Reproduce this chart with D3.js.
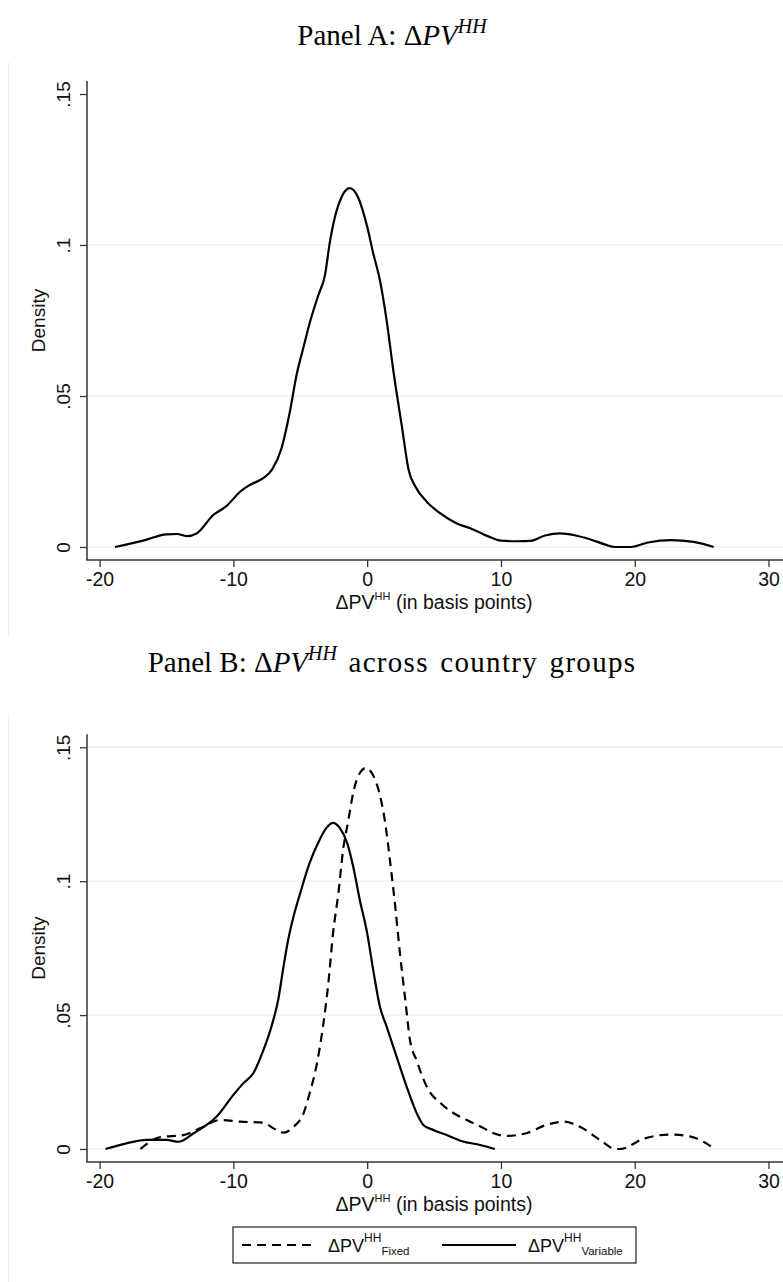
<!DOCTYPE html>
<html>
<head>
<meta charset="utf-8">
<script src="https://cdn.jsdelivr.net/npm/d3@7"></script>
<style>
  body { margin: 0; background: #fff; }
  svg { display: block; }
</style>
</head>
<body>
<svg class="main"></svg>
<script>
// ticks
let xTicks = [-20, -10, 0, 10, 20, 30];
let yTicks = [0, 0.05, 0.1, 0.15];
let yTickLabels = ["0", ".05", ".1", ".15"];

// Panel A : density of dPV^HH  [x, density]
let allPV = [[-18.85,0],[-16.75,0.0021],[-15.0,0.0042],[-14.2,0.0043],[-13.5,0.0036],[-12.75,0.0045],
  [-11.5,0.0106],[-10.5,0.0136],[-9.5,0.0183],[-8.8,0.0205],[-7.8,0.0227],[-7.1,0.0257],[-6.4,0.0327],
  [-5.8,0.0443],[-5.25,0.0575],[-4.75,0.0663],[-4.3,0.0741],[-3.65,0.0834],[-3.15,0.0901],[-2.8,0.1006],
  [-2.4,0.1094],[-1.9,0.116],[-1.3,0.1188],[-0.65,0.1155],[0,0.1061],[0.45,0.0973],[0.95,0.0884],
  [1.45,0.0752],[1.95,0.0586],[2.6,0.0398],[3.1,0.0255],[3.6,0.02],[4.45,0.015],[5.45,0.0112],
  [6.7,0.0078],[7.7,0.0062],[9,0.0036],[10,0.0021],[11.2,0.0019],[12.2,0.002],[13.3,0.0038],
  [14.4,0.0045],[15.5,0.0039],[16.7,0.0025],[17.8,0.0008],[18.5,0],[19.7,0],[21,0.0015],
  [22.7,0.0023],[24.4,0.0017],[25.9,0]];

// Panel B : fixed vs variable
let fixedPV = [[-16.95,0],[-15.5,0.0044],[-13.75,0.0052],[-12.5,0.0077],[-11,0.0108],[-9.5,0.0102],
  [-7.75,0.0098],[-7,0.0077],[-6.25,0.0061],[-5.5,0.0083],[-4.75,0.0134],[-4.3,0.0208],[-3.8,0.0308],
  [-3.3,0.0458],[-2.9,0.062],[-2.55,0.0806],[-2.15,0.0956],[-1.8,0.1117],[-1.4,0.1229],[-1.05,0.1329],
  [-0.55,0.1404],[-0.1,0.1423],[0.35,0.1404],[0.85,0.1341],[1.35,0.1217],[1.7,0.108],[2.1,0.0905],
  [2.45,0.0731],[2.85,0.0557],[3.2,0.0407],[3.7,0.033],[4.45,0.0233],[5.6,0.0166],[6.7,0.0127],
  [7.45,0.0108],[8.7,0.0078],[9.45,0.0059],[10.4,0.0049],[11.9,0.0059],[13.4,0.009],[14.7,0.0102],
  [15.9,0.0083],[17.4,0.0034],[18.55,0],[18.9,0],[20.7,0.0039],[22.7,0.0054],[24.2,0.0046],[26,0]];

let variablePV = [[-19.55,0],[-18,0.0021],[-16.5,0.0034],[-15,0.0034],[-14.1,0.0027],[-13,0.0058],
  [-11.25,0.0121],[-10,0.0202],[-9.25,0.0246],[-8.5,0.0284],[-7.75,0.037],[-7.15,0.0458],[-6.65,0.0557],
  [-6.25,0.0682],[-5.9,0.0782],[-5.5,0.0869],[-5.0,0.0956],[-4.3,0.1068],[-3.55,0.1155],[-3.05,0.1199],
  [-2.55,0.1218],[-2.05,0.1199],[-1.5,0.1143],[-1.05,0.1056],[-0.55,0.093],[0,0.0806],[0.45,0.0669],
  [0.95,0.0532],[1.45,0.0458],[2.2,0.0345],[2.95,0.0233],[3.7,0.0134],[4.2,0.009],[4.95,0.0071],
  [5.95,0.0052],[7.1,0.0029],[8.45,0.0015],[9.55,0]];

let w = 783, h = 1282;
let sans = "'Liberation Sans', Arial, sans-serif";
let serif = "'Liberation Serif', 'Times New Roman', serif";

let svg = d3.select('.main')
  .attr('width', w)
  .attr('height', h)
  .style('background-color', '#fff');

let x = d3.scaleLinear().domain([-20, 30]).range([99.6, 768.5]);

let line = (ys) => d3.line()
  .x(d => x(d[0]))
  .y(d => ys(d[1]))
  .curve(d3.curveMonotoneX);

// writes  Delta PV^HH  into a text node (sans)
let dpv = (t, small, rise) => {
  t.append('tspan').text('\u0394PV');
  t.append('tspan').attr('font-size', small).attr('dy', -rise).text('HH');
  return t;
};

let panelTitle = (txt, y, rest) => {
  let t = svg.append('text')
    .attr('x', 392).attr('y', y)
    .attr('text-anchor', 'middle')
    .attr('font-family', serif)
    .attr('font-size', 29)
    .attr('fill', '#000');
  t.append('tspan').text(txt + '\u0394');
  t.append('tspan').attr('font-style', 'italic').text('PV');
  t.append('tspan').attr('font-style', 'italic').attr('font-size', 20).attr('dy', -12).text('HH');
  if (rest) t.append('tspan').attr('dy', 12)
    .attr('letter-spacing', 1.3).attr('word-spacing', 3).text(rest);
};

let drawPanel = (p) => {
  let y = d3.scaleLinear().domain([0, 0.15]).range([p.y0, p.y15]);
  let g = svg.append('g');

  // faint left border of the graph region
  g.append('line')
    .attr('x1', 8.5).attr('x2', 8.5)
    .attr('y1', p.frameTop).attr('y2', p.frameBottom)
    .attr('stroke', '#eceff0').attr('stroke-width', 1);

  // grid
  g.selectAll('line.grid')
    .data(yTicks.filter(d => p.gridTop || d < 0.15))
    .enter().append('line')
    .attr('class', 'grid')
    .attr('x1', 88).attr('x2', w)
    .attr('y1', d => y(d)).attr('y2', d => y(d))
    .attr('stroke', '#eaf0f2').attr('stroke-width', 1.5);

  // y axis
  let yAxis = g.append('g')
    .attr('transform', 'translate(87,0)')
    .call(d3.axisLeft(y).tickValues(yTicks).tickSize(7).tickFormat((d, i) => yTickLabels[i]));
  yAxis.select('.domain').remove();
  yAxis.selectAll('line').attr('stroke', '#333').attr('stroke-width', 1.3);
  yAxis.selectAll('text')
    .attr('font-family', sans).attr('font-size', 19).attr('fill', '#111')
    .attr('text-anchor', 'middle')
    .attr('x', 0).attr('y', 0).attr('dy', 0)
    .attr('transform', 'translate(-17,0) rotate(-90)');
  g.append('line')
    .attr('x1', 87).attr('x2', 87)
    .attr('y1', p.y15 - 13).attr('y2', p.xAxisY)
    .attr('stroke', '#333').attr('stroke-width', 1.5);

  // x axis (plain hyphen minus, as in the source)
  let xAxis = g.append('g')
    .attr('transform', `translate(0,${p.xAxisY})`)
    .call(d3.axisBottom(x).tickValues(xTicks).tickSize(7).tickFormat(d => String(d)));
  xAxis.select('.domain').remove();
  xAxis.selectAll('line').attr('stroke', '#333').attr('stroke-width', 1.3);
  xAxis.selectAll('text')
    .attr('font-family', sans).attr('font-size', 19.5).attr('fill', '#111')
    .attr('y', 26).attr('dy', 0);
  g.append('line')
    .attr('x1', 86.3).attr('x2', w)
    .attr('y1', p.xAxisY).attr('y2', p.xAxisY)
    .attr('stroke', '#333').attr('stroke-width', 1.5);

  // axis titles
  let xt = g.append('text')
    .attr('x', 434).attr('y', p.xAxisY + 49)
    .attr('text-anchor', 'middle')
    .attr('font-family', sans).attr('font-size', 19.5).attr('fill', '#111');
  dpv(xt, 11, 9);
  xt.append('tspan').attr('dy', 9).text(' (in basis points)');

  g.append('text')
    .attr('transform', `translate(45,${(p.y0 + p.y15) / 2}) rotate(-90)`)
    .attr('text-anchor', 'middle')
    .attr('font-family', sans).attr('font-size', 19).attr('fill', '#111')
    .text('Density');

  // curves
  p.series.forEach(s => {
    g.append('path')
      .datum(s.data)
      .attr('fill', 'none')
      .attr('stroke', '#000')
      .attr('stroke-width', 2.2)
      .attr('stroke-linejoin', 'round')
      .attr('stroke-dasharray', s.dash || null)
      .attr('d', line(y));
  });
};

panelTitle('Panel A: ', 45);
drawPanel({
  y0: 547, y15: 94, xAxisY: 560, frameTop: 62, frameBottom: 637, gridTop: false,
  series: [{ data: allPV }]
});

panelTitle('Panel B: ', 672, ' across country groups');
drawPanel({
  y0: 1149, y15: 747.3, xAxisY: 1162, frameTop: 714, frameBottom: h, gridTop: true,
  series: [{ data: fixedPV, dash: '9,6' }, { data: variablePV }]
});

// legend
let legendItems = [
  { name: 'Fixed', dash: '9,6', x1: 242, x2: 316, tx: 328 },
  { name: 'Variable', dash: null, x1: 442, x2: 516, tx: 528 }
];
let lg = svg.append('g').attr('id', 'legend');
lg.append('rect')
  .attr('x', 233).attr('y', 1227).attr('width', 403).attr('height', 36)
  .attr('fill', '#fff').attr('stroke', '#333').attr('stroke-width', 1.3);
lg.selectAll('line.key')
  .data(legendItems)
  .enter().append('line')
  .attr('class', 'key')
  .attr('x1', d => d.x1).attr('x2', d => d.x2)
  .attr('y1', 1245).attr('y2', 1245)
  .attr('stroke', '#000').attr('stroke-width', 2.2)
  .attr('stroke-dasharray', d => d.dash);
legendItems.forEach(d => {
  let t = lg.append('text')
    .attr('x', d.tx).attr('y', 1252)
    .attr('font-family', sans).attr('font-size', 18).attr('fill', '#111');
  dpv(t, 12, 10);
  t.append('tspan').attr('font-size', 11.5).attr('dy', 13).text(d.name);
});
</script>
</body>
</html>
